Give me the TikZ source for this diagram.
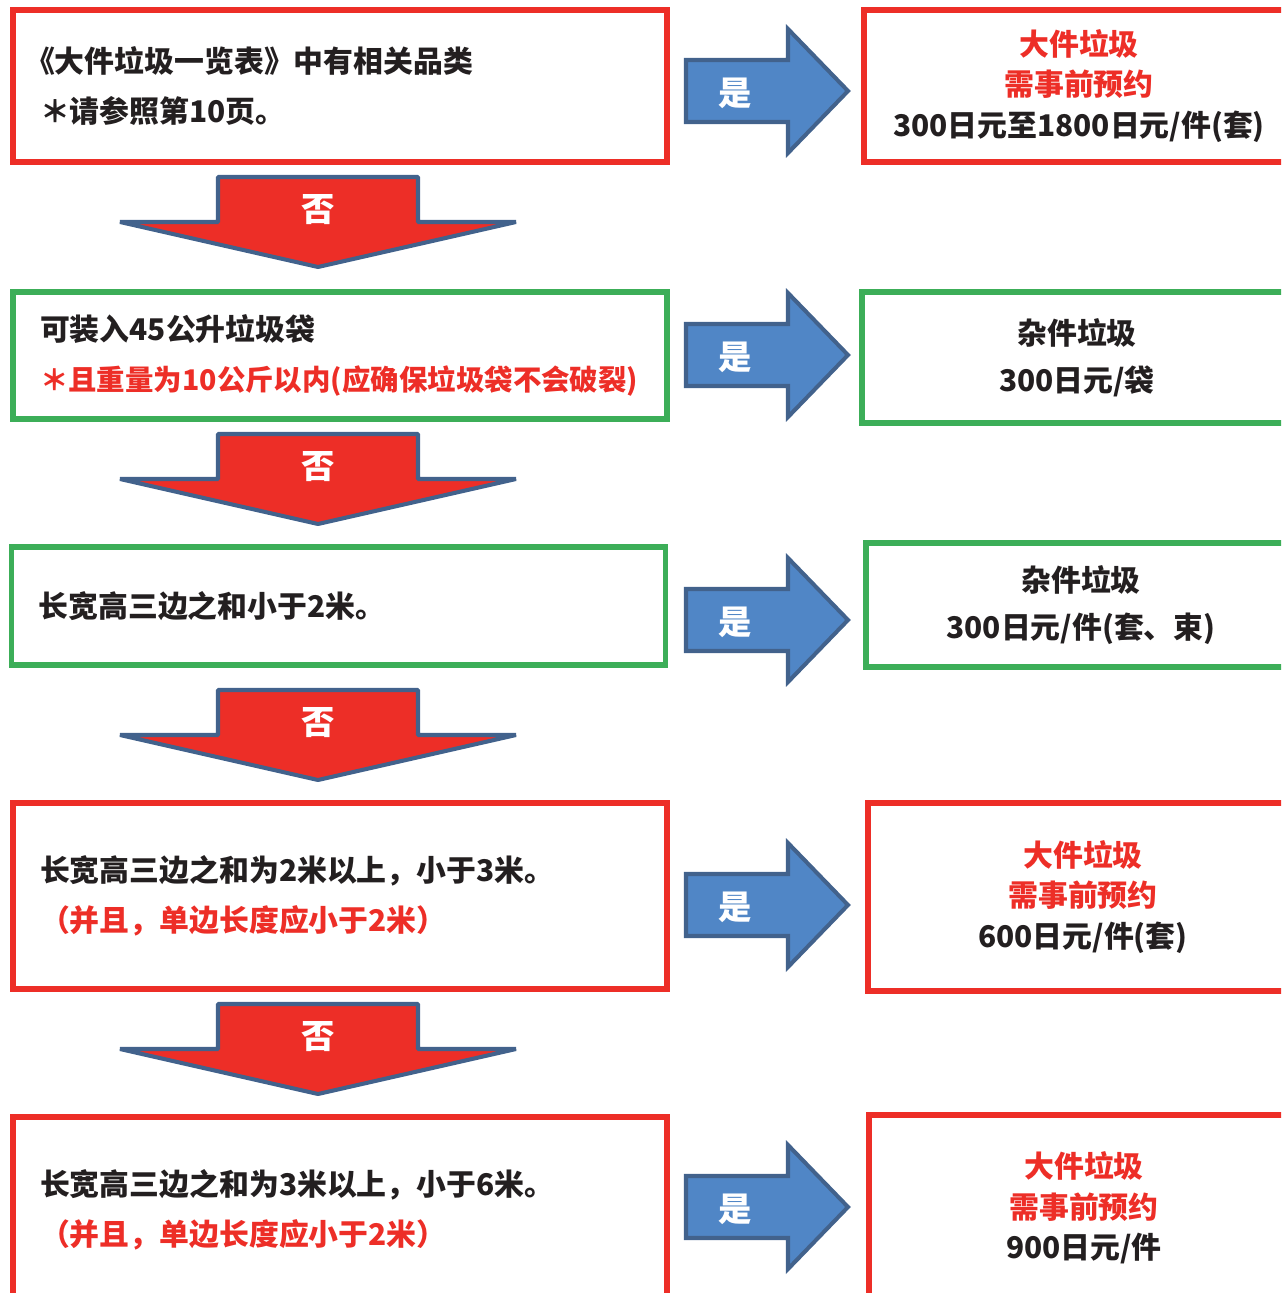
\documentclass[tikz,border=0pt]{standalone}
\usepackage{fontspec}
\setmainfont{Noto Sans CJK SC}
\usepackage{tikz}
\definecolor{boxred}{RGB}{237,46,39}
\definecolor{boxgreen}{RGB}{60,174,88}
\definecolor{yesblue}{RGB}{80,134,198}
\definecolor{edgeblue}{RGB}{66,98,140}
\definecolor{textgray}{RGB}{35,31,32}

\begin{document}
\begin{tikzpicture}[x=0.02cm,y=-0.02cm,
                    box/.style={draw,line width=3.2pt,inner ysep=0pt,text=textgray,
                                font=\fontsize{17}{28.5}\selectfont\bfseries},
                    qbox/.style={box,minimum width=13.08cm,text width=12cm,
                                 inner xsep=0.54cm,align=left},
                    abox/.style={box,minimum width=8.6cm,text width=8cm,
                                 inner xsep=0.3cm,align=center},
                    noarrow/.style={fill=boxred,draw=edgeblue,line width=2.3pt,line join=bevel},
                    yesarrow/.style={fill=yesblue,draw=edgeblue,line width=2.3pt,line join=miter},
                    arrowlabel/.style={text=white,font=\fontsize{19}{19}\selectfont\bfseries}]

  \useasboundingbox (0,0) rectangle (1281,1293);
  \clip (0,0) rectangle (1281,1293);

  % questions
  \node[qbox,draw=boxred,minimum height=3.04cm]   (q1) at (340,86)    {\kern-0.5em《大件垃圾一览表》中有相关品类\\＊请参照第10页。};
  \node[qbox,draw=boxgreen,minimum height=2.54cm] (q2) at (340,355.5) {可装入45公升垃圾袋\\\textcolor{boxred}{\fontsize{16.2}{28.5}\selectfont ＊且重量为10公斤以内(应确保垃圾袋不会破裂)}};
  \node[qbox,draw=boxgreen,minimum height=2.36cm,minimum width=13.02cm] (q3) at (338.5,606) {长宽高三边之和小于2米。};
  \node[qbox,draw=boxred,minimum height=3.72cm]   (q4) at (340,896)   {长宽高三边之和为2米以上，小于3米。\\\textcolor{boxred}{（并且，单边长度应小于2米）}};
  \node[qbox,draw=boxred,minimum height=3.72cm]   (q5) at (340,1210)  {长宽高三边之和为3米以上，小于6米。\\\textcolor{boxred}{（并且，单边长度应小于2米）}};

  % answers
  \node[abox,draw=boxred,minimum height=3.04cm,font=\fontsize{17}{23}\selectfont\bfseries]   (a1) at (1079,86)    {\textcolor{boxred}{大件垃圾}\\\textcolor{boxred}{需事前预约}\\300日元至1800日元/件(套)};
  \node[abox,draw=boxgreen,minimum height=2.62cm,font=\fontsize{17}{27}\selectfont\bfseries] (a2) at (1077,357.5) {杂件垃圾\\300日元/袋};
  \node[abox,draw=boxgreen,minimum height=2.48cm,font=\fontsize{17}{27}\selectfont\bfseries] (a3) at (1081,605)   {杂件垃圾\\300日元/件(套、束)};
  \node[abox,draw=boxred,minimum height=3.76cm,font=\fontsize{17}{23}\selectfont\bfseries]   (a4) at (1083,897)   {\textcolor{boxred}{大件垃圾}\\\textcolor{boxred}{需事前预约}\\600日元/件(套)};
  \node[abox,draw=boxred,minimum height=3.72cm,font=\fontsize{17}{23}\selectfont\bfseries]   (a5) at (1084,1208)  {\textcolor{boxred}{大件垃圾}\\\textcolor{boxred}{需事前预约}\\900日元/件};

  % "no" arrows
  \draw[noarrow] (218,177) -- (418,177) -- (418,222) -- (516,222) -- (318,267) -- (120,222) -- (218,222) -- cycle;
  \node[arrowlabel] (no1) at (318,210) {否};
  \draw[noarrow] (218,434) -- (418,434) -- (418,479) -- (516,479) -- (318,524) -- (120,479) -- (218,479) -- cycle;
  \node[arrowlabel] (no2) at (318,467) {否};
  \draw[noarrow] (218,690) -- (418,690) -- (418,735) -- (516,735) -- (318,780) -- (120,735) -- (218,735) -- cycle;
  \node[arrowlabel] (no3) at (318,723) {否};
  \draw[noarrow] (218,1004) -- (418,1004) -- (418,1049) -- (516,1049) -- (318,1094) -- (120,1049) -- (218,1049) -- cycle;
  \node[arrowlabel] (no4) at (318,1037) {否};

  % "yes" arrows
  \draw[yesarrow] (686,60) -- (788,60) -- (788,29) -- (848,91) -- (788,153) -- (788,122) -- (686,122) -- cycle;
  \node[arrowlabel] (yes1) at (735,93) {是};
  \draw[yesarrow] (686,324) -- (788,324) -- (788,293) -- (848,355) -- (788,417) -- (788,386) -- (686,386) -- cycle;
  \node[arrowlabel] (yes2) at (735,357) {是};
  \draw[yesarrow] (686,589) -- (788,589) -- (788,558) -- (848,620) -- (788,682) -- (788,651) -- (686,651) -- cycle;
  \node[arrowlabel] (yes3) at (735,622) {是};
  \draw[yesarrow] (686,874) -- (788,874) -- (788,843) -- (848,905) -- (788,967) -- (788,936) -- (686,936) -- cycle;
  \node[arrowlabel] (yes4) at (735,907) {是};
  \draw[yesarrow] (686,1176) -- (788,1176) -- (788,1145) -- (848,1207) -- (788,1269) -- (788,1238) -- (686,1238) -- cycle;
  \node[arrowlabel] (yes5) at (735,1209) {是};
\end{tikzpicture}
\end{document}
